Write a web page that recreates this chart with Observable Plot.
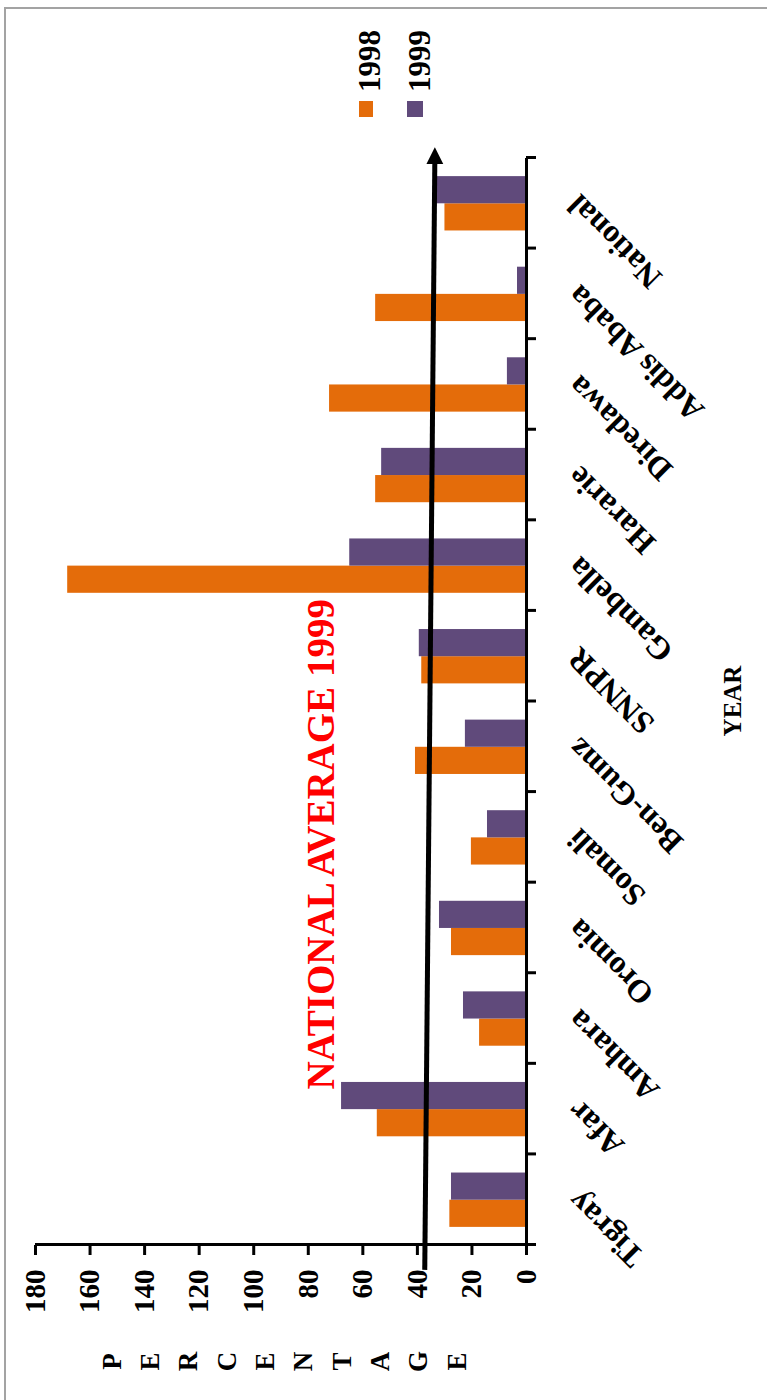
<!DOCTYPE html>
<html>
<head>
<meta charset="utf-8">
<script src="https://cdn.jsdelivr.net/npm/d3@7"></script>
<script src="https://cdn.jsdelivr.net/npm/@observablehq/plot@0.6"></script>
<style>
  html, body { margin: 0; padding: 0; background: #fff; overflow: hidden; width: 767px; height: 1400px; }
  #border { position: absolute; left: 4px; top: 7px; width: 900px; height: 1500px;
            border-left: 2px solid #a3a3a3; border-top: 2px solid #a3a3a3; }
  #wrap { position: absolute; left: 0; top: 0; width: 1400px; height: 767px;
          transform-origin: 0 0; transform: translate(0px, 1400px) rotate(-90deg); }
  #chart svg { overflow: visible; }
  .sw { position: absolute; width: 16px; }
  .lt { position: absolute; font-family: "Liberation Serif", serif; font-weight: bold;
        font-size: 31px; line-height: 31px; white-space: nowrap; color: #000; }
</style>
</head>
<body>
<div id="border"></div>
<div id="wrap">
  <div id="chart"></div>
  <div id="legend"></div>
</div>
<script>
// ---- data ----
const regions = ["Tigray", "Afar", "Amhara", "Oromia", "Somali", "Ben-Gumz", "SNNPR",
                 "Gambella", "Hararie", "Diredawa", "Addis Ababa", "National"];
const values1998 = [28.1, 54.7, 17.2, 27.5, 20.2, 40.7, 38.4, 168.2, 55.3, 72.2, 55.3, 29.9];
const values1999 = [27.5, 67.8, 23.1, 31.9, 14.3, 22.4, 39.3, 64.8, 53.1, 7.0, 3.3, 34.0];
const years = ["1998", "1999"];
const yearColors = ["#E46C0A", "#604A7B"];
const valueTicks = [0, 20, 40, 60, 80, 100, 120, 140, 160, 180];
const valueTitle = "PERCENTAGE";
const categoryTitle = "YEAR";
// annotation: red text and the national-average arrow (category index units, percentage)
const noteText = ["NATIONAL AVERAGE 1999"];
const noteAt = [1.71, 70.7];
const arrowFrom = [-0.28, 37.3];
const arrowTo = [11.99, 33.6];

// ---- table built from the arrays ----
const rows = regions.flatMap((r, i) => [
  {region: r, i, year: years[0], value: values1998[i]},
  {region: r, i, year: years[1], value: values1999[i]}
]);
const boundaries = d3.range(0, regions.length + 1);

const rightTriangle = {
  draw(ctx, size) {
    const a = Math.sqrt(size / Math.PI);
    ctx.moveTo(a * 1.6, 0);
    ctx.lineTo(-a * 0.8, -a * 1.2);
    ctx.lineTo(-a * 0.8, a * 1.2);
    ctx.closePath();
  }
};

const chart = Plot.plot({
  width: 1400,
  height: 767,
  marginLeft: 155,
  marginRight: 158,
  marginTop: 35,
  marginBottom: 241,
  style: {fontFamily: "Liberation Serif, serif", fontWeight: "bold", color: "#000", background: "transparent"},
  x: {domain: [0, regions.length], axis: null},
  y: {domain: [0, 180], axis: null},
  color: {domain: years, range: yearColors},
  marks: [
    Plot.rectY(rows, {
      x1: d => d.i + (d.year === years[0] ? 0.2 : 0.5),
      x2: d => d.i + (d.year === years[0] ? 0.5 : 0.8),
      y: "value",
      fill: "year"
    }),
    Plot.axisY({ticks: valueTicks, tickSize: 10, tickPadding: 15, strokeWidth: 3,
                fontSize: 29, fontWeight: "bold", label: null}),
    Plot.axisX({ticks: boundaries, tickSize: 10, strokeWidth: 3, tickFormat: () => "", label: null}),
    Plot.ruleX([0], {strokeWidth: 3}),
    Plot.ruleY([0], {strokeWidth: 3}),
    Plot.text(regions, {
      x: (d, i) => i + 0.5, frameAnchor: "bottom", rotate: -45,
      textAnchor: "end", lineAnchor: "bottom", dx: 10, dy: 54,
      fontSize: 32, fontWeight: "bold"
    }),
    Plot.text([categoryTitle], {frameAnchor: "bottom", dy: 214, lineAnchor: "bottom",
      fontSize: 25, fontWeight: "bold"}),
    Plot.text([valueTitle.split("").join("\n")], {frameAnchor: "left", dx: -117, textAnchor: "middle",
      lineAnchor: "middle", lineHeight: 1.42, fontSize: 27, fontWeight: "bold"}),
    Plot.text(noteText, {x: noteAt[0], y: noteAt[1], textAnchor: "start", lineAnchor: "bottom",
      fontSize: 39, fontWeight: "bold", fill: "#FF0000"}),
    Plot.link([0], {x1: arrowFrom[0], y1: arrowFrom[1], x2: arrowTo[0], y2: arrowTo[1],
      stroke: "#000", strokeWidth: 5}),
    Plot.dot([0], {x: arrowTo[0], y: arrowTo[1], symbol: rightTriangle, r: 7,
      fill: "#000", stroke: "none"})
  ]
});
document.getElementById("chart").appendChild(chart);

// ---- legend (HTML, laid out in the chart's own unrotated frame) ----
const legend = document.getElementById("legend");
const legendTops = [359, 407];
years.forEach((y, k) => {
  const sw = document.createElement("div");
  sw.className = "sw";
  sw.style.left = "1283px";
  sw.style.top = legendTops[k] + "px";
  sw.style.height = (k === 0 ? 14 : 16) + "px";
  sw.style.background = yearColors[k];
  legend.appendChild(sw);
  const t = document.createElement("div");
  t.className = "lt";
  t.style.left = "1308px";
  t.style.top = (legendTops[k] - 5 + (k === 0 ? 0 : 2)) + "px";
  t.textContent = y;
  legend.appendChild(t);
});
</script>
</body>
</html>
